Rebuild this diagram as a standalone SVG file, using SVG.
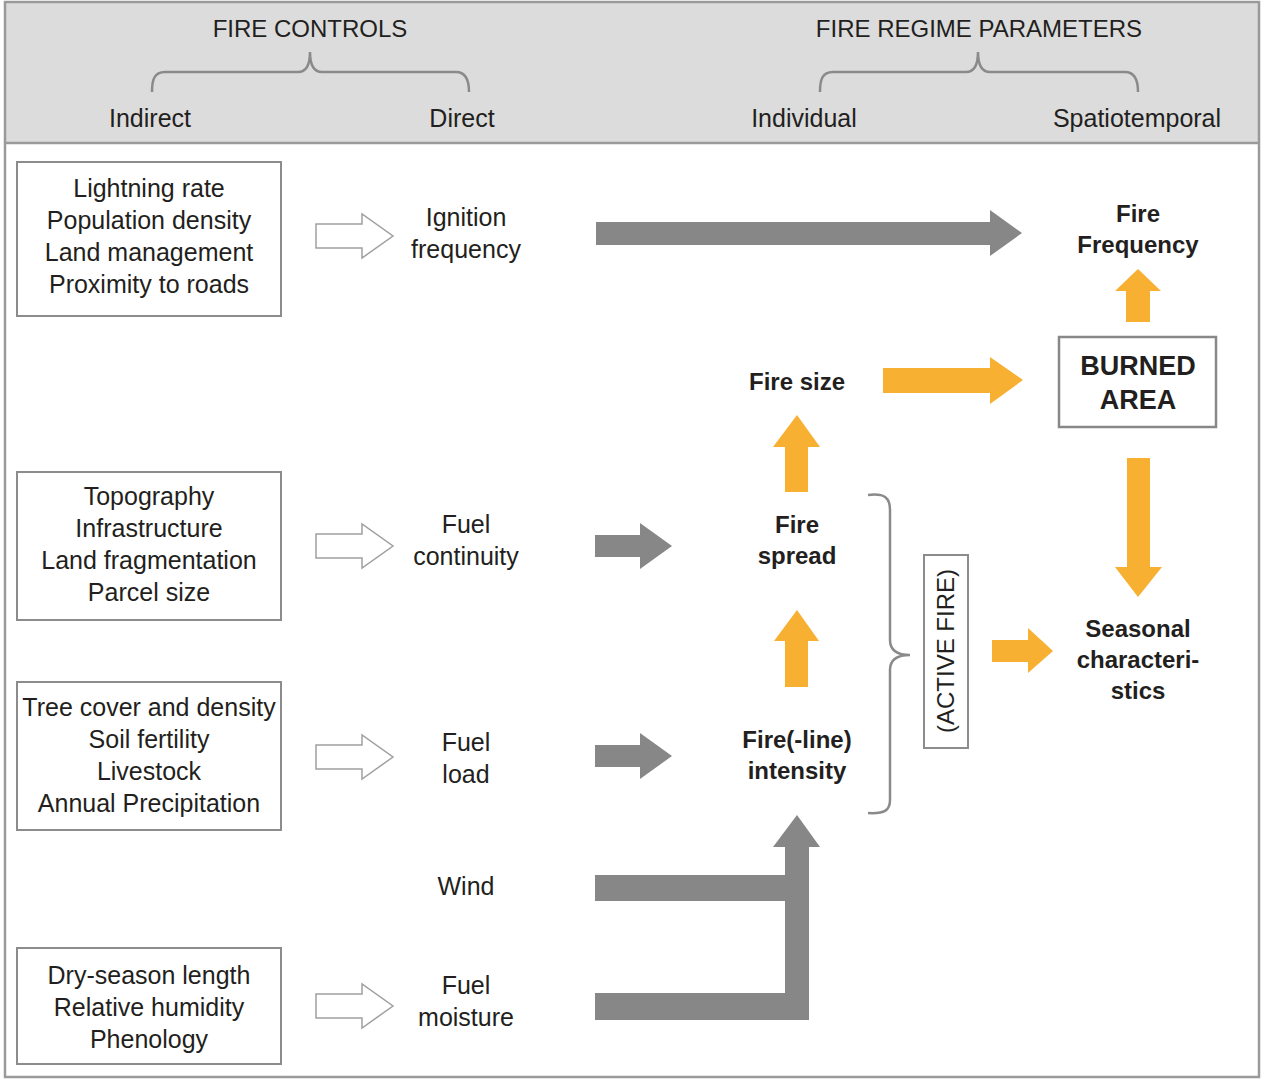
<svg xmlns="http://www.w3.org/2000/svg" width="1261" height="1079" viewBox="0 0 1261 1079">
<defs>
<style>
.t{font-family:"Liberation Sans",Arial,sans-serif;font-size:25px;fill:#231f20;text-anchor:middle}
.h{font-size:24px}
.b{font-weight:bold;font-size:24px}
.box{fill:#fff;stroke:#8c8c8c;stroke-width:2}
.brace{fill:none;stroke:#8a8a8a;stroke-width:2.5}
.g{fill:#878787}
.o{fill:#f7b032}
.hollow{fill:#fff;stroke:#a0a0a0;stroke-width:1.5}
</style>
<path id="hol" d="M316,224 H362 V214 L393,236 L362,258 V248 H316 Z"/>
</defs>
<rect x="0" y="0" width="1261" height="1079" fill="#fff"/>
<g id="frame">
<rect x="5" y="2" width="1254" height="141" fill="#dcdcdc"/>
<rect x="5" y="2" width="1254" height="1075" fill="none" stroke="#9a9a9a" stroke-width="2.5"/>
<line x1="5" y1="143" x2="1259" y2="143" stroke="#9a9a9a" stroke-width="2.5"/>
</g>
<g id="header">
<text class="t h" x="310" y="37">FIRE CONTROLS</text>
<text class="t h" x="979" y="37">FIRE REGIME PARAMETERS</text>
<path class="brace" d="M152,92 C152,80 154,72 165,72 H298 C306,72 310,66 310,52 C310,66 314,72 322,72 H456 C466,72 469,80 469,92"/>
<path class="brace" d="M820,92 C820,80 822,72 833,72 H966 C974,72 978,66 978,52 C978,66 982,72 990,72 H1125 C1135,72 1138,80 1138,92"/>
<text class="t" x="150" y="127">Indirect</text>
<text class="t" x="462" y="127">Direct</text>
<text class="t" x="804" y="127">Individual</text>
<text class="t" x="1137" y="127">Spatiotemporal</text>
</g>
<g id="box-ignition-controls">
<rect class="box" x="17" y="162" width="264" height="154"/>
<text class="t" x="149" y="197">Lightning rate</text>
<text class="t" x="149" y="229">Population density</text>
<text class="t" x="149" y="261">Land management</text>
<text class="t" x="149" y="293">Proximity to roads</text>
</g>
<g id="box-continuity-controls">
<rect class="box" x="17" y="472" width="264" height="148"/>
<text class="t" x="149" y="505">Topography</text>
<text class="t" x="149" y="537">Infrastructure</text>
<text class="t" x="149" y="569">Land fragmentation</text>
<text class="t" x="149" y="601">Parcel size</text>
</g>
<g id="box-load-controls">
<rect class="box" x="17" y="682" width="264" height="148"/>
<text class="t" x="149" y="716">Tree cover and density</text>
<text class="t" x="149" y="748">Soil fertility</text>
<text class="t" x="149" y="780">Livestock</text>
<text class="t" x="149" y="812">Annual Precipitation</text>
</g>
<g id="box-moisture-controls">
<rect class="box" x="17" y="948" width="264" height="116"/>
<text class="t" x="149" y="984">Dry-season length</text>
<text class="t" x="149" y="1016">Relative humidity</text>
<text class="t" x="149" y="1048">Phenology</text>
</g>
<g id="ignition-frequency"><text class="t" x="466" y="226">Ignition</text><text class="t" x="466" y="258">frequency</text></g>
<g id="fuel-continuity"><text class="t" x="466" y="533">Fuel</text><text class="t" x="466" y="565">continuity</text></g>
<g id="fuel-load"><text class="t" x="466" y="751">Fuel</text><text class="t" x="466" y="783">load</text></g>
<g id="wind"><text class="t" x="466" y="895">Wind</text></g>
<g id="fuel-moisture"><text class="t" x="466" y="994">Fuel</text><text class="t" x="466" y="1026">moisture</text></g>
<g id="fire-frequency"><text class="t b" x="1138" y="222">Fire</text><text class="t b" x="1138" y="253">Frequency</text></g>
<g id="burned-area">
<rect x="1059" y="337" width="157" height="90" fill="#fff" stroke="#888" stroke-width="2.5"/>
<text class="t b" style="font-size:27px" x="1138" y="375">BURNED</text>
<text class="t b" style="font-size:27px" x="1138" y="409">AREA</text>
</g>
<g id="fire-size"><text class="t b" x="797" y="390">Fire size</text></g>
<g id="fire-spread"><text class="t b" x="797" y="533">Fire</text><text class="t b" x="797" y="564">spread</text></g>
<g id="fireline-intensity"><text class="t b" x="797" y="748">Fire(-line)</text><text class="t b" x="797" y="779">intensity</text></g>
<g id="seasonal"><text class="t b" x="1138" y="637">Seasonal</text><text class="t b" x="1138" y="668">characteri-</text><text class="t b" x="1138" y="699">stics</text></g>
<g id="active-fire">
<path class="brace" d="M868,495 C885,493 890,498 890,510 V640 C890,650 896,655 910,655 C896,655 890,660 890,670 V800 C890,810 885,814 868,813"/>
<rect x="924" y="555" width="44" height="193" fill="#fff" stroke="#8c8c8c" stroke-width="2"/>
<text class="t h" transform="translate(954,651) rotate(-90)" x="0" y="0">(ACTIVE FIRE)</text>
</g>
<g id="connectors">
<use href="#hol" class="hollow"/>
<use href="#hol" class="hollow" transform="translate(0,310)"/>
<use href="#hol" class="hollow" transform="translate(0,521)"/>
<use href="#hol" class="hollow" transform="translate(0,770)"/>
<path class="g" d="M596,222 H990 V210 L1022,233 L990,256 V245 H596 Z"/>
<path class="g" d="M595,535 H640 V523 L672,546 L640,569 V557 H595 Z"/>
<path class="g" d="M595,745 H640 V733 L672,756 L640,779 V767 H595 Z"/>
<path class="g" d="M595,875 H785 V847 H773 L797,815 L820,847 H809 V1020 H595 V993 H785 V901 H595 Z"/>
<path class="o" d="M785,492 V447 H773 L797,415 L820,447 H808 V492 Z"/>
<path class="o" d="M785,687 V641 H774 L797,610 L819,641 H808 V687 Z"/>
<path class="o" d="M883,368 H990 V357 L1023,380 L990,404 V393 H883 Z"/>
<path class="o" d="M1126,322 V291 H1115 L1138,269 L1161,291 H1150 V322 Z"/>
<path class="o" d="M1127,458 V567 H1115 L1138,597 L1162,567 H1150 V458 Z"/>
<path class="o" d="M992,640 H1028 V628 L1053,651 L1028,673 V662 H992 Z"/>
</g>
</svg>
